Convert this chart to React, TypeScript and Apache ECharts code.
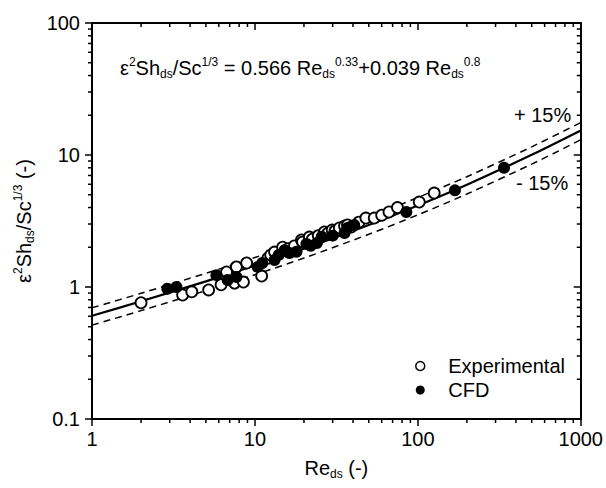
import React, { useEffect, useRef } from 'react';
import * as echarts from 'echarts';

// Correlation curve read at sample Reynolds numbers (log-log)
const curveRe = [1, 2, 5, 10, 20, 50, 100, 200, 500, 1000];
const fitValues = [0.605, 0.779, 1.104, 1.456, 1.949, 2.95, 4.14, 5.955, 10.03, 15.33];
const upperValues = [0.696, 0.896, 1.27, 1.674, 2.241, 3.393, 4.761, 6.848, 11.53, 17.63];
const lowerValues = [0.514, 0.662, 0.938, 1.238, 1.657, 2.508, 3.519, 5.062, 8.526, 13.03];

// Experimental points (open circles)
const expRe = [2.0, 3.6, 4.1, 5.2, 6.2, 6.7, 7.5, 7.7, 8.5, 8.9, 11.0, 12.0, 12.5, 13.2, 14.8, 16, 17.5, 19.3, 19.6, 21.6, 22.5, 24.5, 26.7, 28, 29.8, 31, 33, 35.5, 37, 39, 43.5, 48, 54, 60, 66.5, 75, 102, 126];
const expVal = [0.76, 0.87, 0.92, 0.95, 1.04, 1.3, 1.07, 1.42, 1.09, 1.52, 1.21, 1.65, 1.75, 1.84, 2.0, 1.95, 2.05, 2.27, 2.19, 2.39, 2.3, 2.45, 2.61, 2.55, 2.7, 2.65, 2.8, 2.9, 2.95, 2.85, 3.1, 3.33, 3.33, 3.5, 3.7, 4.0, 4.4, 5.15];

// CFD points (filled circles)
const cfdRe = [2.9, 3.3, 5.8, 6.8, 7.7, 10.4, 11.1, 13.2, 14, 15.2, 16.3, 18, 20.7, 22, 24, 25.7, 30, 35.5, 37, 40.7, 85, 169, 338];
const cfdVal = [0.97, 1.0, 1.23, 1.13, 1.19, 1.42, 1.52, 1.6, 1.75, 1.9, 1.81, 1.85, 2.12, 2.05, 2.15, 2.4, 2.45, 2.56, 2.8, 2.95, 3.7, 5.4, 8.0];

// Axis extents and tick labels
const xTickLabels = ['1', '10', '100', '1000'];
const yTickLabels = ['0.1', '1', '10', '100'];
const X_MIN = 1, X_MAX = 1000, Y_MIN = 0.1, Y_MAX = 100;
const xMinorTicks = [2, 3, 4, 5, 6, 7, 8, 9, 20, 30, 40, 50, 60, 70, 80, 90, 200, 300, 400, 500, 600, 700, 800, 900];
const yMinorTicks = [0.2, 0.3, 0.4, 0.5, 0.6, 0.7, 0.8, 0.9, 2, 3, 4, 5, 6, 7, 8, 9, 20, 30, 40, 50, 60, 70, 80, 90];

const FONT = 'Liberation Sans, Arial, sans-serif';

const rich = {
  b: { fontSize: 20, fontFamily: FONT, color: '#000', fill: '#000', lineHeight: 24 },
  sup: { fontSize: 12, fontFamily: FONT, color: '#000', fill: '#000', lineHeight: 14, verticalAlign: 'top' },
  sub: { fontSize: 12, fontFamily: FONT, color: '#000', fill: '#000', lineHeight: 10, verticalAlign: 'bottom' },
};

export default function App() {
  const ref = useRef<HTMLDivElement>(null);
  useEffect(() => {
    if (!ref.current) return;
    const chart = echarts.init(ref.current, undefined, { renderer: 'svg' });
    const tickStyle = { stroke: '#000', lineWidth: 1.5 };
    const option: any = {
      animation: false,
      backgroundColor: '#fff',
      grid: { left: 92, right: 24, top: 23, bottom: 69, containLabel: false },
      xAxis: [
        {
          type: 'log', logBase: 10, min: X_MIN, max: X_MAX, position: 'bottom',
          axisLine: { show: true, lineStyle: { color: '#000', width: 2 } },
          axisTick: { show: true, inside: false, length: 7, lineStyle: { color: '#000', width: 1.5 } },
          splitLine: { show: false },
          axisLabel: {
            margin: 10, fontSize: 20, fontFamily: FONT, color: '#000',
            formatter: (v: number) => xTickLabels[Math.round(Math.log10(v))] ?? '',
          },
          name: '{b|Re}{sub|ds}{b| (-)}', nameLocation: 'middle', nameGap: 37,
          nameTextStyle: { rich },
        },
        {
          type: 'log', logBase: 10, min: X_MIN, max: X_MAX, position: 'top',
          axisLine: { show: true, lineStyle: { color: '#000', width: 2 } },
          axisTick: { show: true, inside: true, length: 7, lineStyle: { color: '#000', width: 1.5 } },
          splitLine: { show: false },
          axisLabel: { show: false },
        },
      ],
      yAxis: [
        {
          type: 'log', logBase: 10, min: Y_MIN, max: Y_MAX, position: 'left',
          axisLine: { show: true, lineStyle: { color: '#000', width: 2 } },
          axisTick: { show: true, inside: false, length: 7, lineStyle: { color: '#000', width: 1.5 } },
          splitLine: { show: false },
          axisLabel: {
            margin: 12, fontSize: 20, fontFamily: FONT, color: '#000',
            formatter: (v: number) => yTickLabels[Math.round(Math.log10(v)) + 1] ?? '',
          },
          name: '{b|ε}{sup|2}{b|Sh}{sub|ds}{b|/Sc}{sup|1/3}{b| (-)}', nameLocation: 'middle', nameRotate: 90, nameGap: 52,
          nameTextStyle: { rich },
        },
        {
          type: 'log', logBase: 10, min: Y_MIN, max: Y_MAX, position: 'right',
          axisLine: { show: true, lineStyle: { color: '#000', width: 2 } },
          axisTick: { show: true, inside: true, length: 7, lineStyle: { color: '#000', width: 1.5 } },
          splitLine: { show: false },
          axisLabel: { show: false },
        },
      ],
      legend: {
        orient: 'vertical', left: 410, top: 351, itemWidth: 46, itemHeight: 9, itemGap: 4,
        symbolKeepAspect: true,
        textStyle: { fontSize: 20, fontFamily: FONT, color: '#000', lineHeight: 20 },
        data: [
          { name: 'Experimental', icon: 'circle', itemStyle: { color: '#fff', borderColor: '#000', borderWidth: 1.5 } },
          { name: 'CFD', icon: 'circle', itemStyle: { color: '#000', borderWidth: 0 } },
        ],
      },
      graphic: [
        {
          type: 'text', left: 120, top: 56,
          style: {
            text: '{b|ε}{sup|2}{b|Sh}{sub|ds}{b|/Sc}{sup|1/3}{b| = 0.566 Re}{sub|ds}{sup|0.33}{b|+0.039 Re}{sub|ds}{sup|0.8}',
            rich,
          },
        },
        { type: 'text', left: 514, top: 105, style: { text: '+ 15%', fontSize: 20, fontFamily: FONT, fill: '#000' } },
        { type: 'text', left: 516, top: 173, style: { text: '- 15%', fontSize: 20, fontFamily: FONT, fill: '#000' } },
      ],
      series: [
        {
          type: 'custom', coordinateSystem: 'cartesian2d', silent: true, clip: false, z: 5,
          data: xMinorTicks.map((v) => [v, 1]),
          renderItem: (_p: any, api: any) => {
            const v = api.value(0);
            const b = api.coord([v, Y_MIN]);
            const t = api.coord([v, Y_MAX]);
            return {
              type: 'group',
              children: [
                { type: 'line', shape: { x1: b[0], y1: b[1], x2: b[0], y2: b[1] + 4 }, style: tickStyle },
                { type: 'line', shape: { x1: t[0], y1: t[1], x2: t[0], y2: t[1] + 4 }, style: tickStyle },
              ],
            };
          },
        },
        {
          type: 'custom', coordinateSystem: 'cartesian2d', silent: true, clip: false, z: 5,
          data: yMinorTicks.map((v) => [1, v]),
          renderItem: (_p: any, api: any) => {
            const v = api.value(1);
            const l = api.coord([X_MIN, v]);
            const r = api.coord([X_MAX, v]);
            return {
              type: 'group',
              children: [
                { type: 'line', shape: { x1: l[0] - 4, y1: l[1], x2: l[0], y2: l[1] }, style: tickStyle },
                { type: 'line', shape: { x1: r[0] - 4, y1: r[1], x2: r[0], y2: r[1] }, style: tickStyle },
              ],
            };
          },
        },
        {
          name: 'fit', type: 'line', smooth: 0.3, showSymbol: false, symbol: 'none', z: 2,
          data: curveRe.map((x, i) => [x, fitValues[i]]),
          lineStyle: { color: '#000', width: 2.2 },
        },
        {
          name: 'upper', type: 'line', smooth: 0.3, showSymbol: false, symbol: 'none', z: 2,
          data: curveRe.map((x, i) => [x, upperValues[i]]),
          lineStyle: { color: '#000', width: 1.5, type: [7, 5] },
        },
        {
          name: 'lower', type: 'line', smooth: 0.3, showSymbol: false, symbol: 'none', z: 2,
          data: curveRe.map((x, i) => [x, lowerValues[i]]),
          lineStyle: { color: '#000', width: 1.5, type: [7, 5] },
        },
        {
          name: 'Experimental', type: 'scatter', symbol: 'circle', symbolSize: 11, z: 3,
          data: expRe.map((x, i) => [x, expVal[i]]),
          itemStyle: { color: '#fff', borderColor: '#000', borderWidth: 1.8, opacity: 1 },
        },
        {
          name: 'CFD', type: 'scatter', symbol: 'circle', symbolSize: 12, z: 4,
          data: cfdRe.map((x, i) => [x, cfdVal[i]]),
          itemStyle: { color: '#000', opacity: 1 },
        },
      ],
    };
    chart.setOption(option);
    return () => chart.dispose();
  }, []);
  return <div ref={ref} style={{ position: 'absolute', left: 0, top: 0, width: 606, height: 488 }} />;
}
